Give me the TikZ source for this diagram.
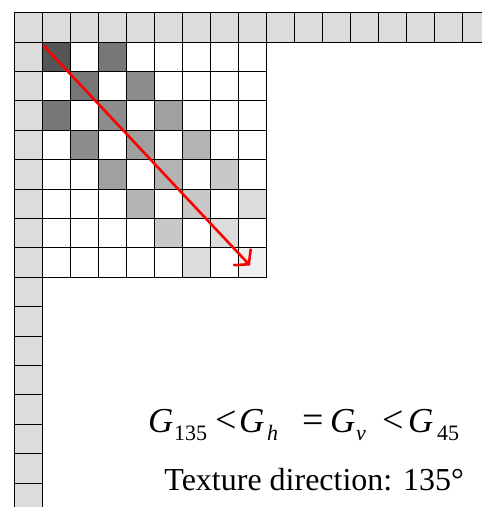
\documentclass[tikz,border=0pt]{standalone}
\usepackage{fontspec}
\setmainfont{Liberation Serif}
\usetikzlibrary{arrows.meta}
\definecolor{edgegray}{HTML}{DCDCDC}
\tikzset{
  cell/.style={draw=black, line width=1pt},
  dirarrow/.style={draw=red, line width=2.6pt, -{Straight Barb[length=10pt,width=24pt]}},
  eqbig/.style={anchor=base west, inner sep=0, font=\fontsize{35}{40}\selectfont},
  eqrel/.style={anchor=base west, inner sep=0, font=\fontsize{38}{40}\selectfont},
  eqsub/.style={anchor=base west, inner sep=0, font=\fontsize{22}{26}\selectfont},
}

\begin{document}
\begin{tikzpicture}[x=1pt,y=-1pt]
  \useasboundingbox (0,0) rectangle (482,507);
  \clip (0,0) rectangle (482,507);
  % Border row and column
  \foreach \i in {0,...,17}
    \filldraw[cell, fill=edgegray] (14+\i*28,12.7) rectangle ++(28,29.4);
  \foreach \j in {1,...,17}
    \filldraw[cell, fill=edgegray] (14,12.7+\j*29.4) rectangle ++(28,29.4);
  % Block with the diagonal texture
  \foreach \r in {0,...,7}
    \foreach \c in {0,...,7} {
      \pgfmathtruncatemacro\d{abs(\r-\c)}
      \pgfmathtruncatemacro\k{(\r+\c)/2}
      \pgfmathtruncatemacro\lev{{85,119,140,160,180,200,220,240}[\k]}
      \ifnum\d=0 \else\ifnum\d=2 \else\def\lev{255}\fi\fi
      \definecolor{cellfill}{RGB}{\lev,\lev,\lev}
      \filldraw[cell, fill=cellfill] (42+\c*28,42.1+\r*29.4) rectangle ++(28,29.4);
    }
  % Direction arrow
  \coordinate (start) at (43.5,45.5);
  \coordinate (end) at (250,265.5);
  \draw[dirarrow] (start) -- (end);
  % Relation between the gradients
  \node[eqbig] (ga) at (148,432.5) {\textit{G}};
  \node[eqsub] (sa) at (174,440) {135};
  \node[eqrel] (lta) at (215,432.5) {<};
  \node[eqbig] (gb) at (239,432.5) {\textit{G}};
  \node[eqsub] (sb) at (267,440) {\textit{h}};
  \node[eqrel] (eq) at (302,432.5) {=};
  \node[eqbig] (gc) at (330,432.5) {\textit{G}};
  \node[eqsub] (sc) at (356,440) {\textit{v}};
  \node[eqrel] (ltb) at (382,432.5) {<};
  \node[eqbig] (gd) at (408,432.5) {\textit{G}};
  \node[eqsub] (sd) at (437,440) {45};
  % Caption
  \node[anchor=base east, inner sep=0, font=\fontsize{32}{38}\selectfont] (caption) at (464,490)
    {Texture direction: 135°};
\end{tikzpicture}
\end{document}
